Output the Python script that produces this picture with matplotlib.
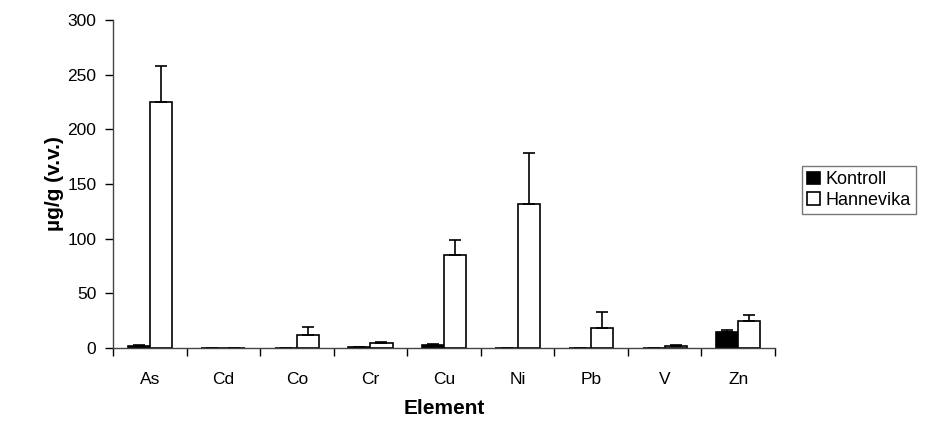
import numpy as np
import matplotlib.pyplot as plt

plt.rcParams['font.family'] = ['Liberation Sans', 'DejaVu Sans']

elements = ["As", "Cd", "Co", "Cr", "Cu", "Ni", "Pb", "V", "Zn"]
kontroll = [2, 0.2, 0.3, 1, 3, 0.3, 0.3, 0.2, 15]
kontroll_err = [0.5, 0, 0, 0.2, 0.5, 0, 0, 0, 1.5]
hannevika = [225, 0.3, 12, 4.5, 85, 132, 18, 2, 24.5]
hannevika_err = [33, 0, 7, 0.7, 14, 46, 15, 0.5, 5.5]

x = np.arange(len(elements))
w = 0.3

fig = plt.figure(figsize=(9.44, 4.26), dpi=100)
ax = fig.add_axes([113 / 944, 1 - 348 / 426, 662 / 944, 328 / 426])

ekw = dict(ecolor="black", elinewidth=1.2, capsize=4, capthick=1.2)
ax.bar(x - w / 2, kontroll, w, color="black", edgecolor="black", linewidth=1.2,
       yerr=[np.zeros(len(x)), kontroll_err], error_kw=ekw, label="Kontroll")
ax.bar(x + w / 2, hannevika, w, color="white", edgecolor="black", linewidth=1.2,
       yerr=[np.zeros(len(x)), hannevika_err], error_kw=ekw, label="Hannevika")

ax.set_xlim(-0.5, len(x) - 0.5)
ax.set_ylim(0, 300)
ax.set_yticks(range(0, 301, 50))
ax.set_xticks(x)
ax.set_xticklabels(elements)
ax.set_xticks(np.arange(-0.5, len(x), 1), minor=True)
ax.tick_params(axis="x", which="major", length=0, pad=17, labelsize=12.5)
ax.tick_params(axis="x", which="minor", length=6, width=1, direction="out")
ax.tick_params(axis="y", length=6, width=1, labelsize=12.5, pad=6)

for s in ["top", "right"]:
    ax.spines[s].set_visible(False)
for s in ["left", "bottom"]:
    ax.spines[s].set_color("#444444")
    ax.spines[s].set_linewidth(1)

ax.set_ylabel("µg/g (v.v.)", fontsize=15, fontweight="bold", labelpad=2)
ax.set_xlabel("Element", fontsize=15, fontweight="bold", labelpad=9)

leg = ax.legend(loc="upper left", bbox_to_anchor=(793 / 944, 1 - 157 / 426),
                bbox_transform=fig.transFigure, fontsize=13, frameon=True,
                fancybox=False, handlelength=0.7, handleheight=0.7,
                handletextpad=0.3, borderpad=0.3, labelspacing=0.2)
leg.get_frame().set_edgecolor("#555555")
leg.get_frame().set_linewidth(1)

fig.savefig("out.png", dpi=100)
